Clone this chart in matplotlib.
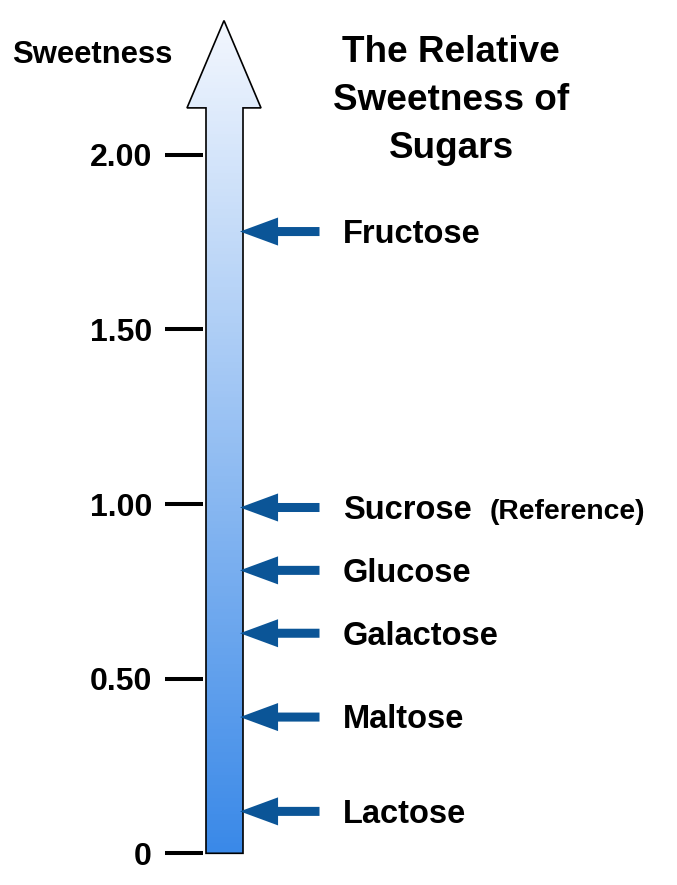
import matplotlib
matplotlib.use("Agg")
import matplotlib.pyplot as plt
import numpy as np
from matplotlib.patches import Polygon
from matplotlib.colors import LinearSegmentedColormap

plt.rcParams['font.family'] = ['Liberation Sans', 'DejaVu Sans']
plt.rcParams['font.weight'] = 'bold'

# data
sugars = ['Fructose', 'Sucrose', 'Glucose', 'Galactose', 'Maltose', 'Lactose']
sweetness = [1.78, 0.99, 0.81, 0.63, 0.39, 0.12]
notes = {'Sucrose': '(Reference)'}
tick_values = [0, 0.5, 1.0, 1.5, 2.0]
tick_labels = ['0', '0.50', '1.00', '1.50', '2.00']

W, H = 677, 885
px_per_unit = 349.3
zero_px = 31.7  # distance of value 0 from figure bottom

fig = plt.figure(figsize=(W / 100, H / 100), dpi=100)

# data axes: x in pixels, y in sweetness units
ax = fig.add_axes([0, 0, 1, 1])
ax.axis('off')

# the big gradient arrow (scale)
axis_top = 2.134
head_h = 0.25
bx0, bx1 = 206, 243
hx0, hx1 = 187, 261
outline = [(bx0, 0), (bx1, 0), (bx1, axis_top), (hx1, axis_top),
           ((hx0 + hx1) / 2, axis_top + head_h), (hx0, axis_top), (bx0, axis_top)]
poly = Polygon(outline, closed=True, fc='none', ec='black', lw=1.2, zorder=3)
ax.add_patch(poly)
cmap = LinearSegmentedColormap.from_list('sw', ['#3a89e8', '#f3f7fe'])
grad = np.linspace(0, 1, 256).reshape(-1, 1)
img = ax.imshow(grad, cmap=cmap, origin='lower', aspect='auto',
                extent=[hx0, hx1, 0, axis_top + head_h], zorder=2)
img.set_clip_path(poly)

# tick marks and labels
ax.hlines(tick_values, 165, 203, color='black', lw=2.9)
for v, lab in zip(tick_values, tick_labels):
    ax.annotate(lab, xy=(152, v), xytext=(0, -8.3), textcoords='offset points',
                ha='right', va='baseline', fontsize=23, fontweight='bold')

# sugar arrows and labels
arrow_col = '#0b5597'
for name, v in zip(sugars, sweetness):
    ax.annotate('', xy=(240, v), xytext=(319.5, v),
                arrowprops=dict(arrowstyle='simple,head_length=2.74,head_width=2.02,tail_width=0.65',
                                fc=arrow_col, ec='none', shrinkA=0, shrinkB=0,
                                mutation_scale=10), zorder=4)
    ax.annotate(name, xy=(343, v), xytext=(0, -8.2), textcoords='offset points',
                ha='left', va='baseline', fontsize=23.5, fontweight='bold')
    if name in notes:
        ax.annotate(notes[name], xy=(490, v), xytext=(0, -8.2), textcoords='offset points',
                    ha='left', va='baseline', fontsize=20.3, fontweight='bold')

ax.set_xlim(0, W)
ax.set_ylim(-zero_px / px_per_unit, (H - zero_px) / px_per_unit)

# text layer in pixel coordinates (top-left origin)
lay = fig.add_axes([0, 0, 1, 1], facecolor='none')
lay.axis('off')
lay.set_xlim(0, W)
lay.set_ylim(H, 0)
lay.text(12.5, 63.3, 'Sweetness', ha='left', va='baseline', fontsize=22.3, fontweight='bold')
for i, line in enumerate(['The Relative', 'Sweetness of', 'Sugars']):
    lay.text(451, 61.7 + 48 * i, line, ha='center', va='baseline',
             fontsize=26.6, fontweight='bold')

fig.savefig('out.png', dpi=100)
